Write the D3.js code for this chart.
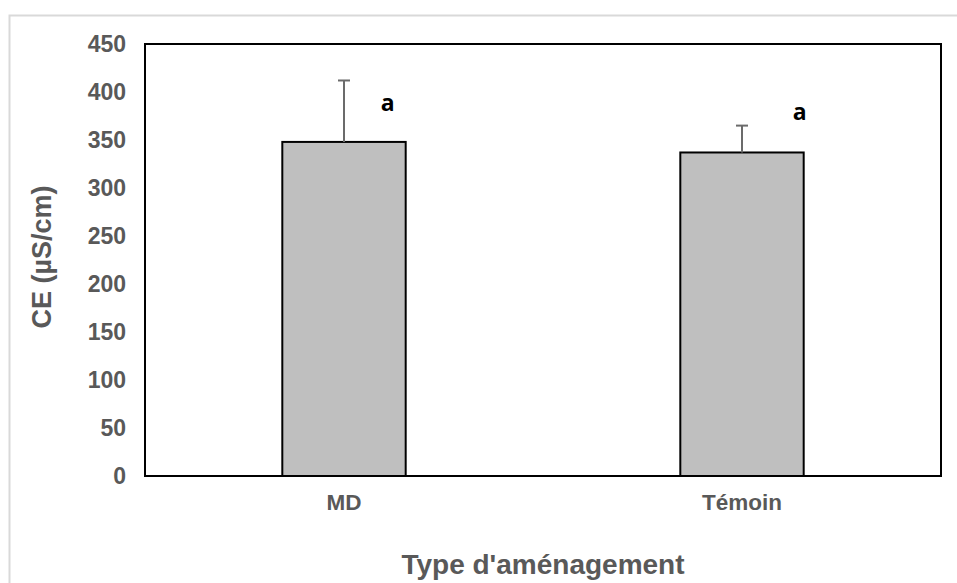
<!DOCTYPE html>
<html>
<head>
<meta charset="utf-8">
<script src="https://cdn.jsdelivr.net/npm/d3@7"></script>
<style>
  body { margin: 0; background: #fff; }
  text { font-family: "Liberation Sans", Arial, sans-serif; font-weight: bold; }
</style>
</head>
<body>
<svg id="chart"></svg>
<script>
// Data
const categories = ["MD", "Témoin"];
const means = [348, 337];
const errors = [64, 28];
const letters = ["a", "a"];
const letterLevels = [389, 379];   // letter height, in y units
const yTicks = [0, 50, 100, 150, 200, 250, 300, 350, 400, 450];

// SVG dimensions
const width = 957;
const height = 583;
const margin = { top: 44, right: 16, bottom: 107, left: 145 };

const svg = d3.select("#chart")
    .attr("width", width)
    .attr("height", height);

// outer chart frame
svg.append("rect")
    .attr("x", 9.5).attr("y", 15.5)
    .attr("width", width).attr("height", height)
    .attr("fill", "none")
    .attr("stroke", "#d9d9d9")
    .attr("stroke-width", 2);

const x = d3.scaleBand()
    .domain(categories)
    .range([margin.left, width - margin.right])
    .paddingInner(0.69)
    .paddingOuter(0.345);

const y = d3.scaleLinear()
    .domain([0, 450])
    .range([height - margin.bottom, margin.top]);

// Y axis labels (no tick marks)
svg.append("g")
    .attr("transform", `translate(${margin.left},0)`)
    .call(d3.axisLeft(y).tickValues(yTicks).tickSize(0).tickPadding(19))
    .call(g => g.select(".domain").remove())
    .selectAll("text")
    .attr("fill", "#595959")
    .style("font-size", "23px");

// X axis labels
svg.append("g")
    .attr("transform", `translate(0,${height - margin.bottom})`)
    .call(d3.axisBottom(x).tickSize(0).tickPadding(18))
    .call(g => g.select(".domain").remove())
    .selectAll("text")
    .attr("fill", "#595959")
    .style("font-size", "22.5px");

// Bars
svg.selectAll(".bar")
    .data(categories)
    .enter()
    .append("rect")
    .attr("class", "bar")
    .attr("x", d => x(d))
    .attr("y", (d, i) => y(means[i]))
    .attr("width", x.bandwidth())
    .attr("height", (d, i) => y(0) - y(means[i]))
    .attr("fill", "#bfbfbf")
    .attr("stroke", "#000")
    .attr("stroke-width", 2);

// Error bars (plus only)
const err = svg.selectAll(".err")
    .data(categories)
    .enter()
    .append("g")
    .attr("class", "err")
    .attr("stroke", "#6b6b6b")
    .attr("stroke-width", 2);

err.append("line")
    .attr("x1", d => x(d) + x.bandwidth() / 2)
    .attr("x2", d => x(d) + x.bandwidth() / 2)
    .attr("y1", (d, i) => y(means[i]))
    .attr("y2", (d, i) => y(means[i] + errors[i]));

err.append("line")
    .attr("x1", d => x(d) + x.bandwidth() / 2 - 6)
    .attr("x2", d => x(d) + x.bandwidth() / 2 + 6)
    .attr("y1", (d, i) => y(means[i] + errors[i]))
    .attr("y2", (d, i) => y(means[i] + errors[i]));

// Plot frame
svg.append("rect")
    .attr("x", margin.left)
    .attr("y", margin.top)
    .attr("width", width - margin.left - margin.right)
    .attr("height", height - margin.top - margin.bottom)
    .attr("fill", "none")
    .attr("stroke", "#000")
    .attr("stroke-width", 2);

// Significance letters
const letterShift = [-18, -4];
svg.selectAll(".letter")
    .data(categories)
    .enter()
    .append("text")
    .attr("class", "letter")
    .attr("x", (d, i) => x(d) + x.bandwidth() + letterShift[i])
    .attr("y", (d, i) => y(letterLevels[i]))
    .attr("dy", ".35em")
    .attr("text-anchor", "middle")
    .style("font-size", "23px")
    .style("font-family", "Open Sans, sans-serif")
    .attr("fill", "#000")
    .text((d, i) => letters[i]);

// Axis titles
svg.append("text")
    .attr("transform", `translate(51,257) rotate(-90)`)
    .attr("text-anchor", "middle")
    .attr("fill", "#595959")
    .style("font-size", "27px")
    .text("CE (µS/cm)");

svg.append("text")
    .attr("x", (margin.left + width - margin.right) / 2)
    .attr("y", 574)
    .attr("text-anchor", "middle")
    .attr("fill", "#595959")
    .style("font-size", "28px")
    .text("Type d'aménagement");
</script>
</body>
</html>
